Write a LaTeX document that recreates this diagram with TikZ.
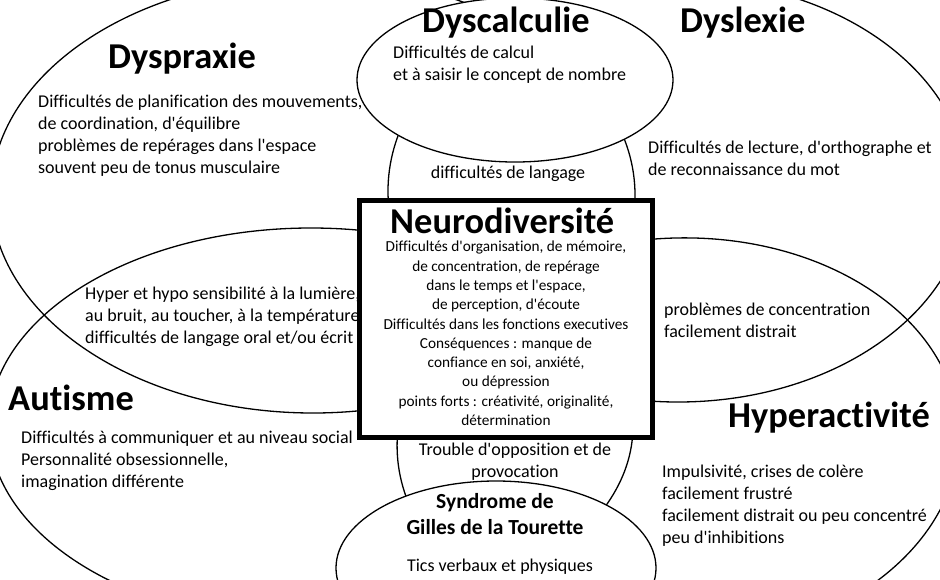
\documentclass[tikz,border=0pt]{standalone}
\usepackage{fontspec}
\setmainfont{Carlito}[Ligatures={TeXOff,CommonOff}]
\tikzset{
  bigell/.style={line width=1.3pt, draw=black},
  smallell/.style={line width=1.3pt, draw=black, fill=white},
  centrebox/.style={line width=5pt, draw=black, fill=white},
  titletext/.style={font=\bfseries\fontsize{36.4}{44}\selectfont, inner sep=0pt, anchor=base west},
  bodytext/.style={font=\fontsize{18}{22}\selectfont, inner sep=0pt, align=left, anchor=north west},
  bodycentre/.style={font=\fontsize{18}{22}\selectfont, inner sep=0pt, align=center, anchor=north},
  boldcentre/.style={font=\bfseries\fontsize{21.5}{26}\selectfont, inner sep=0pt, align=center, anchor=north},
  boxtext/.style={font=\fontsize{15.3}{19.3}\selectfont, inner sep=0pt, align=center, anchor=north}
}
\begin{document}
\begin{tikzpicture}[x=1pt,y=-1pt]
\useasboundingbox (0,0) rectangle (940,579);
\fill[white] (0,0) rectangle (940,579);
\begin{scope}
\clip (0,0) rectangle (940,579);
% big overlapping ellipses
\draw[bigell] (313,195) ellipse [x radius=322, y radius=218]; % Dyspraxie
\draw[bigell] (678,191) ellipse [x radius=290, y radius=211]; % Dyslexie
\draw[bigell] (311,426) ellipse [x radius=322, y radius=198]; % Autisme
\draw[bigell, rotate around={2:(678,441)}] (678,441) ellipse [x radius=281, y radius=203]; % Hyperactivite
% small filled ellipses
\draw[smallell] (515,80) ellipse [x radius=158, y radius=82]; % Dyscalculie
\draw[smallell] (496,568) ellipse [x radius=160, y radius=87]; % Tourette
% central box
\draw[centrebox] (359.5,200.5) rectangle (652.5,437.5);
\end{scope}

% titles
\node[titletext] (tdyspraxie) at (108,68) {Dyspraxie};
\node[titletext] (tdyscalculie) at (422,32) {Dyscalculie};
\node[titletext] (tdyslexie) at (680,32) {Dyslexie};
\node[titletext] (tneuro) at (390,233) {Neurodiversité};
\node[titletext] (tautisme) at (8,410) {Autisme};
\node[titletext] (thyper) at (728,427) {Hyperactivité};

% bodies
\node[bodytext] (bdyspraxie) at (38,95) {Difficultés de planification des mouvements,\\de coordination, d'équilibre\\problèmes de repérages dans l'espace\\souvent peu de tonus musculaire};
\node[bodytext] (bdyscalculie) at (393,46) {Difficultés de calcul\\et à saisir le concept de nombre};
\node[bodycentre] (blangage) at (508,166) {difficultés de langage};
\node[bodytext] (bdyslexie) at (648,141) {Difficultés de lecture, d'orthographe et\\de reconnaissance du mot};
\node[bodytext] (bsensib) at (85,287) {Hyper et hypo sensibilité à la lumière,\\au bruit, au toucher, à la température\\difficultés de langage oral et/ou écrit};
\node[bodytext] (bautisme) at (21,431) {Difficultés à communiquer et au niveau social\\Personnalité obsessionnelle,\\imagination différente};
\node[bodytext] (bconcentr) at (664,303) {problèmes de concentration\\facilement distrait};
\node[bodytext] (bhyper) at (662,465) {Impulsivité, crises de colère\\facilement frustré\\facilement distrait ou peu concentré\\peu d'inhibitions};
\node[bodycentre] (btrouble) at (515,443) {Trouble d'opposition et de\\provocation};
\node[boldcentre] (ttourette) at (495,493) {Syndrome de\\Gilles de la Tourette};
\node[bodycentre] (btics) at (500,559) {Tics verbaux et physiques};
\node[boxtext] (bneuro) at (506,241) {Difficultés d'organisation, de mémoire,\\de concentration, de repérage\\dans le temps et l'espace,\\de perception, d'écoute\\Difficultés dans les fonctions executives\\Conséquences : manque de\\confiance en soi, anxiété,\\ou dépression\\points forts : créativité, originalité,\\détermination};
\end{tikzpicture}
\end{document}
